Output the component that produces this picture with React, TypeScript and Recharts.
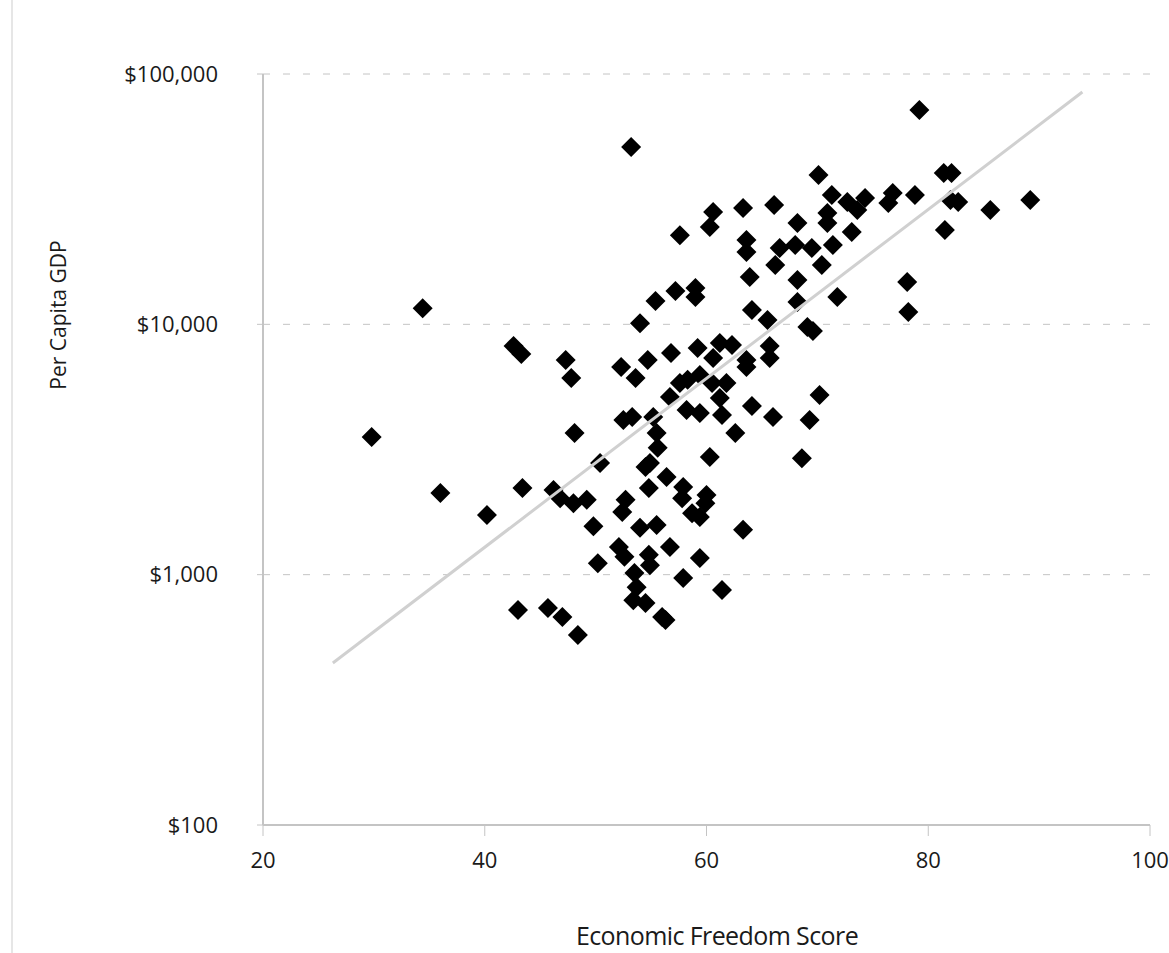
import { ScatterChart, Scatter, XAxis, YAxis, CartesianGrid, Label } from "recharts";

// economic freedom score for each country
const scores = [
  29.8, 34.4, 36.0, 40.2, 42.6, 43.3, 43.4, 43.0, 45.7, 47.0, 48.4, 47.3, 47.8, 48.1, 46.2, 46.8, 48.0, 49.2, 49.8, 50.2,
  50.4, 53.2, 52.3, 53.6, 54.0, 55.4, 57.2, 57.6, 54.7, 56.8, 57.6, 56.7, 52.5, 53.3, 55.2, 55.5, 55.6, 54.9, 54.5, 56.4,
  54.8, 52.7, 52.4, 54.0, 55.5, 52.1, 52.6, 54.8, 54.9, 56.7, 53.5, 53.7, 53.4, 54.5, 56.0, 56.3, 57.9, 57.8, 60.0, 59.9,
  58.7, 59.4, 59.4, 57.9, 61.4, 63.3, 60.3, 58.2, 59.4, 58.3, 59.4, 59.2, 60.6, 61.2, 62.3, 60.5, 61.8, 61.2, 61.4, 62.6,
  59.0, 59.0, 60.6, 60.3, 63.3, 66.1, 63.6, 63.6, 63.9, 64.1, 65.5, 65.7, 65.7, 63.6, 63.6, 64.1, 66.0, 69.3, 70.2, 68.6,
  70.1, 71.3, 72.7, 74.3, 73.6, 70.9, 70.9, 73.1, 68.2, 66.6, 68.0, 69.5, 71.4, 66.2, 70.4, 68.2, 71.8, 68.2, 69.1, 69.6,
  79.2, 81.4, 82.1, 76.8, 76.4, 78.8, 82.0, 82.7, 85.6, 89.2, 81.5, 78.1, 78.2,
];

// per capita GDP, US dollars
const gdp = [
  3550, 11600, 2120, 1730, 8190, 7610, 2220, 722, 736, 677, 574, 7200, 6100, 3680, 2180, 2020, 1930, 1990, 1560, 1110,
  2790, 51100, 6750, 6100, 10100, 12400, 13600, 22700, 7200, 7680, 5830, 5120, 4150, 4260, 4260, 3680, 3210, 2790, 2690, 2455,
  2220, 1990, 1780, 1540, 1580, 1290, 1180, 1200, 1090, 1290, 1015, 890, 790, 770, 677, 659, 2240, 2020, 2080, 1930,
  1760, 1700, 1165, 969, 868, 1510, 2950, 4550, 4420, 6000, 6270, 8040, 7335, 8420, 8270, 5830, 5830, 5075, 4340, 3680,
  13960, 12860, 28100, 24470, 29150, 29970, 21720, 19450, 15450, 11410, 10400, 8190, 7335, 7200, 6750, 4720, 4260, 4150, 5220, 2920,
  39490, 32860, 30810, 31960, 28620, 27840, 25390, 23380, 25390, 20170, 20740, 20170, 20740, 17260, 17260, 15030, 12860, 12280, 9754, 9400,
  71800, 40230, 40230, 33460, 30530, 32860, 31380, 30810, 28620, 31380, 23810, 14760, 11200,
];

// trend line end points
const trendScores = [26.3, 93.9];
const trendGdp = [444, 84700];

const xTicks = [20, 40, 60, 80, 100];
const yTicks = [100, 1000, 10000, 100000];

const points = scores.map((x, i) => ({ x, y: gdp[i] }));
const trend = trendScores.map((x, i) => ({ x, y: trendGdp[i] }));

const font = "'Open Sans', sans-serif";

const Diamond = (props: any) => {
  const { cx, cy } = props;
  const r = 10;
  return <path d={`M${cx},${cy - r}L${cx + r},${cy}L${cx},${cy + r}L${cx - r},${cy}Z`} fill="#000" />;
};

export default function App() {
  return (
    <div style={{ position: "absolute", left: 0, top: 0, width: 1169, height: 953, background: "#fff", fontFamily: font }}>
      <div style={{ position: "absolute", left: 11, top: 0, width: 2, height: 953, background: "#e6e6e6" }} />
      <ScatterChart width={1169} height={953} margin={{ top: 74, right: 19, bottom: 68, left: 183 }}>
        <CartesianGrid vertical={false} stroke="#c4c4c4" strokeDasharray="7 13" />
        <XAxis
          type="number"
          dataKey="x"
          domain={[20, 100]}
          ticks={xTicks}
          height={60}
          axisLine={{ stroke: "#c4c4c4", strokeWidth: 2 }}
          tickLine={{ stroke: "#c4c4c4" }}
          tickSize={11}
          tickMargin={16}
          tick={{ fill: "#1a1a1a", fontSize: 22, fontFamily: font }}
        >
          <Label
            content={() => (
              <text x={717} y={935} textAnchor="middle" dominantBaseline="central" fontSize={25} letterSpacing={-0.6} fill="#1a1a1a" fontFamily={font}>
                Economic Freedom Score
              </text>
            )}
          />
        </XAxis>
        <YAxis
          type="number"
          dataKey="y"
          scale="log"
          domain={[100, 100000]}
          allowDataOverflow
          ticks={yTicks}
          width={80}
          axisLine={{ stroke: "#c4c4c4", strokeWidth: 2 }}
          tickLine={{ stroke: "#c4c4c4" }}
          tickSize={6}
          tickMargin={39}
          tickFormatter={(v: number) => `$${v.toLocaleString("en-US")}`}
          tick={{ fill: "#1a1a1a", fontSize: 22, fontFamily: font }}
        >
          <Label
            content={() => (
              <text x={58} y={315} transform="rotate(-90 58 315)" textAnchor="middle" dominantBaseline="central" fontSize={21} fill="#1a1a1a" fontFamily={font}>
                Per Capita GDP
              </text>
            )}
          />
        </YAxis>
        <Scatter data={points} shape={Diamond} isAnimationActive={false} />
        <Scatter
          data={trend}
          line={{ stroke: "#d0d0d0", strokeWidth: 3 }}
          lineType="joint"
          shape={() => <g />}
          isAnimationActive={false}
        />
      </ScatterChart>
    </div>
  );
}
